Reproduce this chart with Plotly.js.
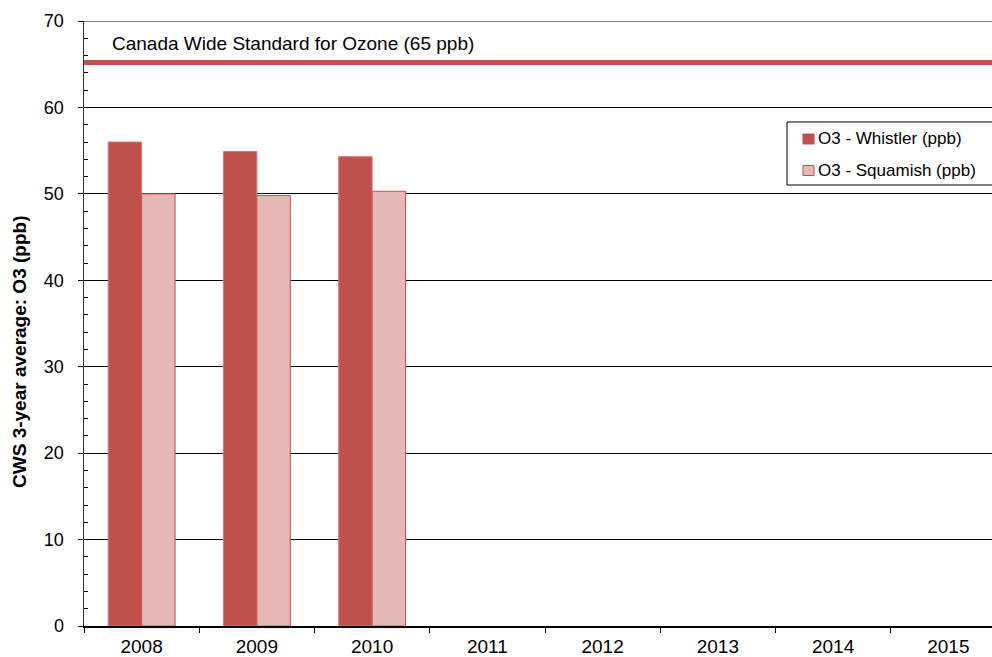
<!DOCTYPE html>
<html>
<head>
<meta charset="utf-8">
<script src="https://cdn.plot.ly/plotly-3.0.1.min.js"></script>
<style>
html,body{margin:0;padding:0;overflow:hidden;background:#fff;}
#chart{width:1010px;height:657px;}
</style>
</head>
<body>
<div id="chart"></div>
<script>
const years = ['2008','2009','2010','2011','2012','2013','2014','2015'];
const whistler = [56.0, 54.9, 54.3, null, null, null, null, null];
const squamish = [50.0, 49.8, 50.3, null, null, null, null, null];
const seriesNames = ['O3 - Whistler (ppb)', 'O3 - Squamish (ppb)'];
const cwsStandard = 65.2;
const cwsLabel = 'Canada Wide Standard for Ozone (65 ppb)';
const yTitle = 'CWS 3-year average: O3 (ppb)';

const FONT = 'Liberation Sans, Arial, sans-serif';
const RED = '#c0504d', PINK = '#e6b9b8';

const traces = [
  {type: 'bar', name: seriesNames[0], x: years, y: whistler,
   marker: {color: RED, line: {color: '#d07a78', width: 1}}},
  {type: 'bar', name: seriesNames[1], x: years, y: squamish,
   marker: {color: PINK, line: {color: RED, width: 1}}}
];

// custom legend (paper coordinates)
const legendShapes = [
  {type: 'rect', xref: 'paper', yref: 'paper', x0: 0.7625, x1: 1.01, y0: 0.7289, y1: 0.8331,
   fillcolor: '#fff', line: {color: '#000', width: 1}},
  {type: 'rect', xref: 'paper', yref: 'paper', x0: 0.7798, x1: 0.7918, y0: 0.7967, y1: 0.8132,
   fillcolor: RED, line: {color: RED, width: 1}},
  {type: 'rect', xref: 'paper', yref: 'paper', x0: 0.7798, x1: 0.7918, y0: 0.7446, y1: 0.7612,
   fillcolor: PINK, line: {color: RED, width: 1}}
];
const legendAnn = [
  {text: seriesNames[0], xref: 'paper', yref: 'paper', x: 0.7935, y: 0.805,
   xanchor: 'left', yanchor: 'middle', showarrow: false,
   font: {family: FONT, size: 17, color: '#000'}},
  {text: seriesNames[1], xref: 'paper', yref: 'paper', x: 0.7935, y: 0.7526,
   xanchor: 'left', yanchor: 'middle', showarrow: false,
   font: {family: FONT, size: 17, color: '#000'}}
];

const layout = {
  width: 1010, height: 657,
  margin: {l: 84, r: 4, t: 21, b: 31},
  paper_bgcolor: '#fff', plot_bgcolor: '#fff',
  font: {family: FONT, size: 16, color: '#000'},
  barmode: 'group', bargap: 0.42, bargroupgap: 0,
  showlegend: false,
  xaxis: {
    type: 'category', categoryorder: 'array', categoryarray: years,
    range: [-0.5, 7.5],
    showline: true, linecolor: '#000', linewidth: 1.5,
    ticks: 'outside', tickson: 'boundaries', ticklen: 5, tickcolor: '#000', tickwidth: 1,
    ticklabelstandoff: 3,
    showgrid: false, zeroline: false,
    tickfont: {family: FONT, size: 19, color: '#000'}
  },
  yaxis: {
    range: [0, 70], dtick: 10, tick0: 0,
    showline: true, linecolor: '#333', linewidth: 1.5,
    ticks: 'outside', ticklen: 5, tickcolor: '#000',
    ticklabelstandoff: 10,
    showgrid: true, gridcolor: '#000', gridwidth: 1,
    zeroline: false,
    minor: {dtick: 2, ticks: 'inside', ticklen: 4, tickcolor: '#000', showgrid: false},
    tickfont: {family: FONT, size: 18, color: '#000'}
  },
  shapes: [
    {type: 'line', xref: 'paper', yref: 'y', x0: 0, x1: 1, y0: 70, y1: 70,
     line: {color: '#808080', width: 2}},
    {type: 'line', xref: 'paper', yref: 'y', x0: 0, x1: 1, y0: cwsStandard, y1: cwsStandard,
     line: {color: RED, width: 5}}
  ].concat(legendShapes),
  annotations: [
    {text: cwsLabel, xref: 'paper', yref: 'y', x: 0.028, y: 67.45,
     xanchor: 'left', yanchor: 'middle', showarrow: false,
     font: {family: FONT, size: 19, color: '#000'}},
    {text: '<b>' + yTitle + '</b>', xref: 'paper', yref: 'paper', x: -0.0694, y: 0.453,
     xanchor: 'center', yanchor: 'middle', textangle: -90, showarrow: false,
     font: {family: FONT, size: 19, color: '#000'}}
  ].concat(legendAnn)
};

Plotly.newPlot('chart', traces, layout, {displayModeBar: false, staticPlot: true});
</script>
</body>
</html>
